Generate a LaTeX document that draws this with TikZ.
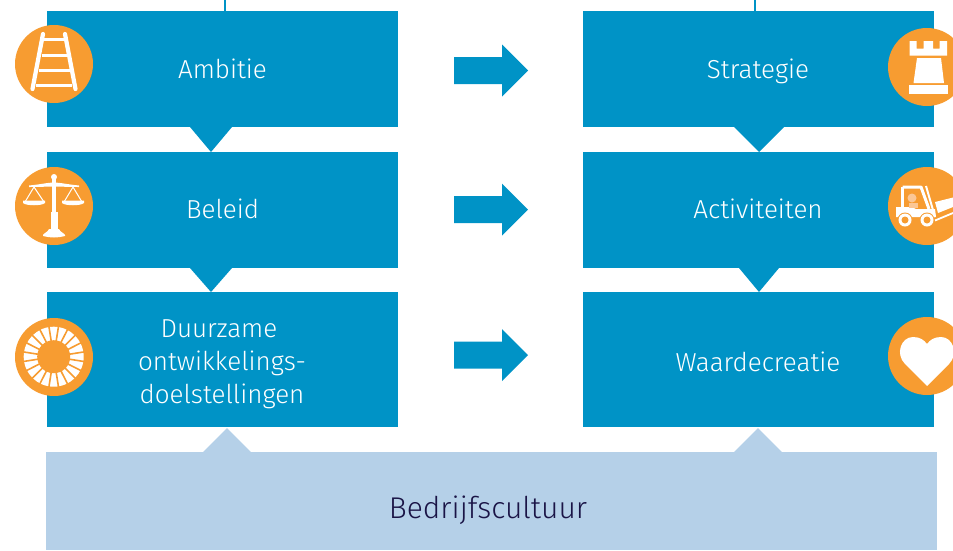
\documentclass[tikz,border=0pt]{standalone}
\usepackage{fontspec}
\setmainfont{Fira Sans}[UprightFont=* Light]
\definecolor{bluebox}{HTML}{0093C6}
\definecolor{orangedisc}{HTML}{F79C31}
\definecolor{paleblue}{HTML}{B5D0E8}
\definecolor{navytext}{HTML}{1A1446}
\definecolor{paleorange}{HTML}{FBC795}
\tikzset{
  x=1pt,y=-1pt,
  box/.style={fill=bluebox,inner sep=0pt,anchor=north west,minimum width=351pt},
  boxlabel/.style={text=white,inner sep=0pt,anchor=base,font=\fontsize{26}{33}\selectfont},
  feed/.style={draw=bluebox,line width=2.4pt},
  disc/.style={circle,fill=orangedisc,minimum size=78pt,inner sep=0pt},
  icon/.style={draw=white,line cap=round,line join=round},
  rail/.style={icon,line width=4.2pt},
  rung/.style={icon,line width=3pt,line cap=butt}
}
\begin{document}
\begin{tikzpicture}
\useasboundingbox (0,0) rectangle (953,550);
\clip (0,0) rectangle (953,550);
% boxes
\node[box,minimum height=116pt] (ambitie) at (47,11) {};
\node[box,minimum height=116pt] (beleid) at (47,152) {};
\node[box,minimum height=135pt] (duurzaam) at (47,292) {};
\node[box,minimum height=116pt] (strategie) at (583,11) {};
\node[box,minimum height=116pt] (activiteiten) at (583,152) {};
\node[box,minimum height=135pt] (waarde) at (583,292) {};
\node[fill=paleblue,inner sep=0pt,minimum width=891pt,minimum height=98pt,anchor=north west] (cultuur) at (46,452) {};
% labels
\node[boxlabel] (lab1) at (222.5,78) {Ambitie};
\node[boxlabel] (lab2) at (222.5,218) {Beleid};
\node[boxlabel] (lab3a) at (219,337) {Duurzame};
\node[boxlabel] (lab3b) at (222,370) {ontwikkelings-};
\node[boxlabel] (lab3c) at (222,403) {doelstellingen};
\node[boxlabel] (lab4) at (758,78) {Strategie};
\node[boxlabel] (lab5) at (758,218) {Activiteiten};
\node[boxlabel] (lab6) at (758,371) {Waardecreatie};
\node[text=navytext,inner sep=0pt,anchor=base,font=\fontsize{30}{36}\selectfont] (lab7) at (488,518) {Bedrijfscultuur};
% top feeds
\coordinate (topa) at (225,0);
\coordinate (topb) at (755,0);
\draw[feed] (topa) -- (225,11);
\draw[feed] (topb) -- (755,11);
% pointers
\fill[bluebox] (190,127) -- (232,127) -- (211,152) -- cycle;
\fill[bluebox] (190,268) -- (232,268) -- (211,292) -- cycle;
\fill[bluebox] (734,127) -- (784,127) -- (759,152) -- cycle;
\fill[bluebox] (739,268) -- (779,268) -- (759,292) -- cycle;
\fill[paleblue] (203,452) -- (251,452) -- (227,428) -- cycle;
\fill[paleblue] (734,452) -- (782,452) -- (758,428) -- cycle;
% block arrows
\foreach \y in {70.5,209.5,355}
  \fill[bluebox] (454,\y-13.5) -- (502,\y-13.5) -- (502,\y-26) -- (528,\y) -- (502,\y+26) -- (502,\y+13.5) -- (454,\y+13.5) -- cycle;
% discs
\node[disc] (d1) at (54,64) {};
\node[disc] (d2) at (54,206) {};
\node[disc] (d3) at (54,357) {};
\node[disc] (d4) at (927,67) {};
\node[disc] (d5) at (927,206) {};
\node[disc] (d6) at (927,356) {};
% ladder
\draw[rail] (43,34) -- (32.5,89);
\draw[rail] (65,34) -- (75.5,89);
\foreach \y/\h in {39.5/7,55/9.5,70.5/12.5,85/15}
  \draw[rung] (54-\h-3,\y) -- (54+\h+3,\y);
% scales
\fill[white] (54,177) circle (3);
\fill[white] (52,176) rectangle (56,232);
\fill[white] (50.5,212) rectangle (57.5,232);
\fill[white] (29,185.5) .. controls (40,184.5) and (48,182.5) .. (54,182.5) .. controls (60,182.5) and (68,184.5) .. (79,185.5) -- (79,187) .. controls (68,187) and (60,186.5) .. (54,186.5) .. controls (48,186.5) and (40,187) .. (29,187) -- cycle;
\draw[white,line width=1pt] (25,202) -- (34,187) -- (44,202);
\draw[white,line width=1pt] (64,202) -- (73,187) -- (82,202);
\fill[white] (23,200.5) -- (45,200.5) -- (45,203) .. controls (42,206) and (26,206) .. (23,203) -- cycle;
\fill[white] (62,200.5) -- (84,200.5) -- (84,203) .. controls (81,206) and (65,206) .. (62,203) -- cycle;
\fill[white] (49,229) -- (59,229) .. controls (60,232) and (64,233) .. (65,235) -- (65,236) .. controls (58,238) and (50,238) .. (43,236) -- (43,235) .. controls (44,233) and (48,232) .. (49,229) -- cycle;
% wheel
\fill[white] (53.7,356.7) circle (30);
\foreach \a in {0,18,...,342}
  \draw[orangedisc,line width=1.6pt] (53.7,356.7) -- ++(\a+9:31);
\fill[orangedisc] (53.7,356.7) circle (16.5);
% rook
\fill[white] (909.5,41) -- (916.5,41) -- (916.5,48.5) -- (923.5,48.5) -- (923.5,41) -- (933,41) -- (933,48.5) -- (939.5,48.5) -- (939.5,41) -- (947,41) -- (947,55.5) -- (909.5,55.5) -- cycle;
\fill[white] (917,58) -- (941,58) -- (944,83) -- (913.5,83) -- cycle;
\fill[white] (909,85) rectangle (948,94);
% forklift
\draw[white,line width=3pt,line join=round] (902.5,187) -- (921,187) -- (929,209);
\draw[white,line width=3pt] (902.5,187) -- (902.5,207);
\fill[white] (896,207) -- (912,207) -- (916,209) -- (935,209) -- (936,217) -- (896,217) -- cycle;
\fill[paleorange] (912,198) circle (4.5);
\fill[paleorange] (909,203) rectangle (918,208);
\fill[orangedisc] (905,220) circle (7.5);
\fill[orangedisc] (927,220) circle (7.5);
\fill[white] (905,220) circle (6.5);
\fill[white] (927,220) circle (6.5);
\fill[orangedisc] (905,220) circle (3.5);
\fill[orangedisc] (927,220) circle (3.5);
\draw[white,line width=2pt] (926,186) -- (935,217);
\draw[white,line width=1.8pt] (935,220.5) -- (953,213);
\fill[white] (935,202) -- (953,197.5) -- (953,207) -- (938,213) -- cycle;
% heart
\fill[white] (927,386) -- (905,364) .. controls (895,354) and (901,337) .. (913,337) .. controls (920,337) and (924,340) .. (927,344) .. controls (930,340) and (934,337) .. (941,337) .. controls (953,337) and (959,354) .. (949,364) -- cycle;
\end{tikzpicture}
\end{document}
